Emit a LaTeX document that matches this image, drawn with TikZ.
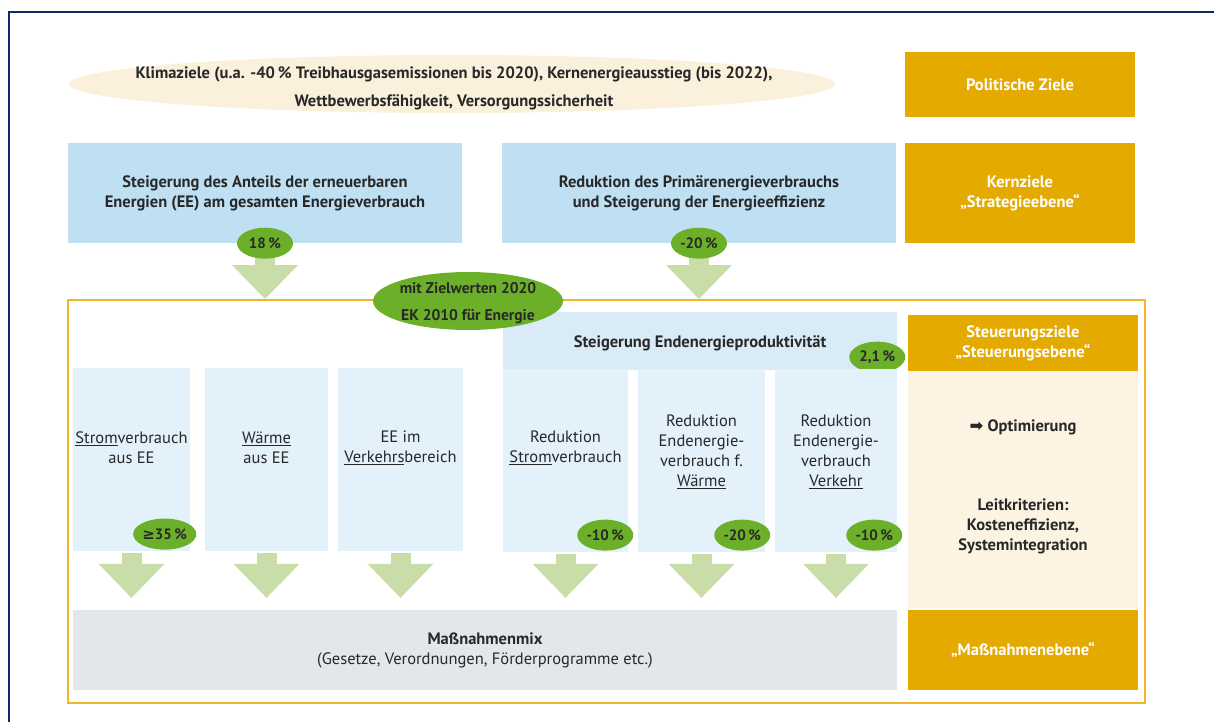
\documentclass[tikz,border=0pt]{standalone}
\usepackage{fontspec}
\setmainfont{PT Sans}
\newfontfamily\symfont{DejaVu Sans}
\usetikzlibrary{shapes.geometric, arrows.meta, positioning}

\definecolor{navy}{RGB}{16,41,107}
\definecolor{gold}{RGB}{229,170,0}
\definecolor{goldline}{RGB}{240,182,40}
\definecolor{skyblue}{RGB}{190,224,242}
\definecolor{paleblue}{RGB}{226,241,250}
\definecolor{headblue}{RGB}{216,235,247}
\definecolor{leaf}{RGB}{108,176,42}
\definecolor{sprout}{RGB}{200,221,168}
\definecolor{cream}{RGB}{251,240,219}
\definecolor{paper}{RGB}{253,243,227}
\definecolor{mist}{RGB}{228,231,234}
\definecolor{ink}{RGB}{40,40,40}

\newcommand\boxfont{\fontsize{16.5}{20}\selectfont}

\begin{document}
\begin{tikzpicture}[x=1pt, y=-1pt,
    every node/.style={font=\boxfont, text=ink, align=center, inner sep=0pt},
    levelbox/.style={fill=gold, text=white, font=\boxfont\bfseries,
        minimum width=230, minimum height=#1},
    levelbox/.default=65,
    goalbox/.style={fill=skyblue, font=\boxfont\bfseries,
        minimum width=394, minimum height=100},
    column/.style={fill=paleblue, minimum width=#1, minimum height=183},
    badge/.style={ellipse, fill=leaf, minimum width=56, minimum height=31,
        font=\fontsize{15}{18}\selectfont\bfseries},
    flow/.style={sprout, line width=20pt,
        -{Triangle[width=66pt, length=34pt, line width=0pt]}},
]
\useasboundingbox (0,0) rectangle (1214,722);

% outer frame
\draw[navy, line width=2.5pt] (9,722) -- (9,12) -- (1214,12);

% political goals
\node[ellipse, fill=cream, minimum width=766, minimum height=58] (klima) at (452,84) {};
\node[font=\fontsize{16.5}{28}\selectfont\bfseries] (klimatxt) at (454,88)
    {Klimaziele (u.a. -40\,\% Treibhausgasemissionen bis 2020), Kernenergieausstieg (bis 2022),\\
     Wettbewerbsfähigkeit, Versorgungssicherheit};
\node[levelbox] (polit) at (1020,84.5) {Politische Ziele};

% core goals
\node[goalbox] (ee) at (265,193) {Steigerung des Anteils der erneuerbaren\\Energien (EE) am gesamten Energieverbrauch};
\node[goalbox] (prim) at (699,193) {Reduktion des Primärenergieverbrauchs\\und Steigerung der Energieeffizienz};
\node[levelbox=100] (kern) at (1020,193) {Kernziele\\„Strategieebene“};

% frame of the steering level
\node[draw=goldline, line width=2pt, minimum width=1077, minimum height=403] (frame) at (606.5,501.5) {};

\draw[flow] (ee.south) -- (ee.south |- frame.north);
\draw[flow] (prim.south) -- (prim.south |- frame.north);
\node[badge] (b18) at (ee.south) {18\,\%};
\node[badge] (b20) at (prim.south) {-20\,\%};

% steering goals
\node[fill=headblue, minimum width=394, minimum height=58] (prod) at (700,341) {};
\node[font=\boxfont\bfseries] (prodtxt) at (700,343) {Steigerung Endenergieproduktivität};
\node[badge, above left=2pt and 0pt of prod.south east] (b21) {2,1\,\%};

\node[ellipse, fill=leaf, minimum width=190, minimum height=58] (ziel) at (468,301) {};
\node[font=\fontsize{15.5}{27}\selectfont\bfseries] (zieltxt) at ([yshift=-2pt]ziel.center) {mit Zielwerten 2020\\EK 2010 für Energie};

\node[column=117] (c1) at (131.5,459.5) {};
\node[column=123] (c2) at (266.5,459.5) {};
\node[column=125] (c3) at (400.5,459.5) {};
\node[column=125] (c4) at (565.5,460.5) {};
\node[column=127] (c5) at (701.5,460.5) {};
\node[column=122] (c6) at (836,460.5) {};

\node (t1) at ([yshift=12pt]c1.center) {\underline{Strom}verbrauch\\aus EE};
\node (t2) at ([yshift=12pt]c2.center) {\underline{Wärme}\\aus EE};
\node (t3) at ([yshift=12pt]c3.center) {EE im\\\underline{Verkehrs}bereich};
\node (t4) at ([yshift=13pt]c4.center) {Reduktion\\\underline{Strom}verbrauch};
\node (t5) at ([yshift=9pt]c5.center) {Reduktion\\Endenergie-\\verbrauch f.\\\underline{Wärme}};
\node (t6) at ([yshift=9pt]c6.center) {Reduktion\\Endenergie-\\verbrauch\\\underline{Verkehr}};

\node[badge, above left=6pt and 3pt of c1.south east] (b35) {{\symfont ≥}35\,\%};
\node[badge, above left=6pt and 3pt of c4.south east] (b10s) {-10\,\%};
\node[badge, above left=6pt and 3pt of c5.south east] (b20w) {-20\,\%};
\node[badge, above left=6pt and 3pt of c6.south east] (b10v) {-10\,\%};

% measures
\node[fill=mist, minimum width=824, minimum height=80] (mix) at (485,650)
    {\textbf{Maßnahmenmix}\\(Gesetze, Verordnungen, Förderprogramme etc.)};

\foreach \c in {c1,c2,c3,c4,c5,c6}
    \draw[flow, shorten <=2pt, shorten >=12pt] (\c.south) -- (\c.south |- mix.north);

% right column
\node[levelbox=56] (steer) at (1023,343) {Steuerungsziele\\„Steuerungsebene“};
\node[fill=paper, minimum width=230, minimum height=237, below=0pt of steer] (crit) {};
\node[font=\boxfont\bfseries] (opt) at (1023,427) {{\symfont ➡} Optimierung};
\node[font=\boxfont\bfseries] (leit) at (1023,526) {Leitkriterien:\\Kosteneffizienz,\\Systemintegration};
\node[levelbox=80] (mass) at (1023,650) {„Maßnahmenebene“};
\end{tikzpicture}
\end{document}
